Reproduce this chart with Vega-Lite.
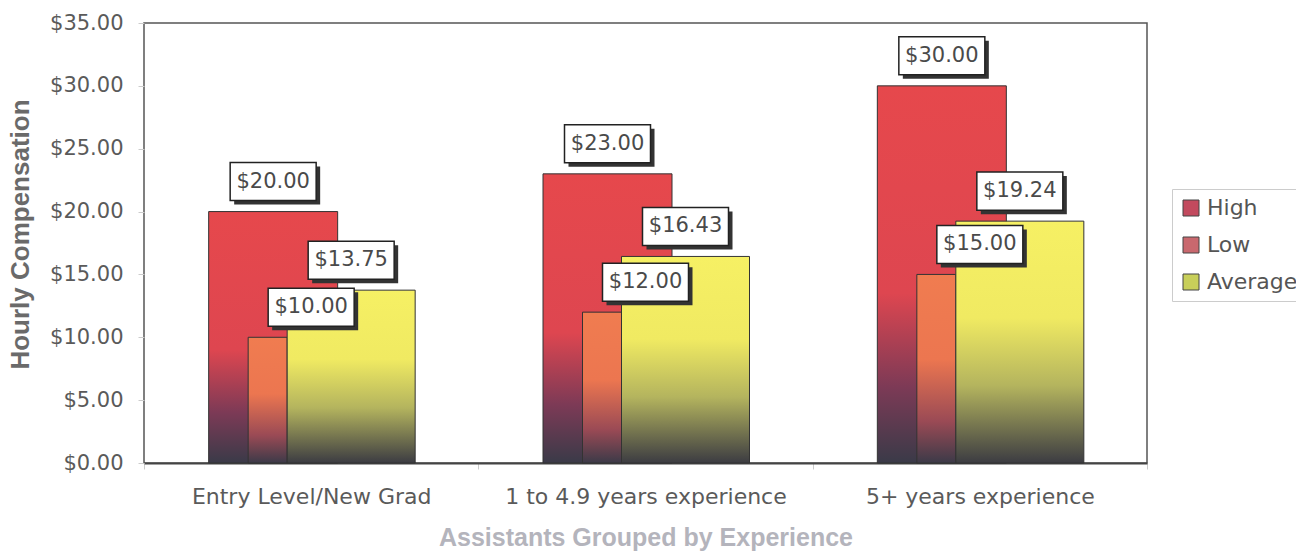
{
  "$schema": "https://vega.github.io/schema/vega-lite/v6.json",
  "width": 1003,
  "height": 440,
  "autosize": {"type": "none"},
  "padding": {"left": 144, "top": 23, "right": 149, "bottom": 93},
  "background": "white",
  "config": {"view": {"stroke": "#555", "strokeWidth": 1.5}, "font": "DejaVu Sans"},
  "data": {"values": [
    {"category": "Entry Level/New Grad", "series": "High", "value": 20.00},
    {"category": "Entry Level/New Grad", "series": "Low", "value": 10.00},
    {"category": "Entry Level/New Grad", "series": "Average", "value": 13.75},
    {"category": "1 to 4.9 years experience", "series": "High", "value": 23.00},
    {"category": "1 to 4.9 years experience", "series": "Low", "value": 12.00},
    {"category": "1 to 4.9 years experience", "series": "Average", "value": 16.43},
    {"category": "5+ years experience", "series": "High", "value": 30.00},
    {"category": "5+ years experience", "series": "Low", "value": 15.00},
    {"category": "5+ years experience", "series": "Average", "value": 19.24}
  ]},
  "encoding": {
    "x": {
      "field": "category", "type": "nominal",
      "sort": ["Entry Level/New Grad", "1 to 4.9 years experience", "5+ years experience"],
      "scale": {"paddingInner": 0, "paddingOuter": 0},
      "axis": {
        "title": "Assistants Grouped by Experience",
        "titleFont": "Liberation Sans", "titleFontSize": 25, "titleFontWeight": "bold",
        "titleColor": "#b4b4bc", "titlePadding": 18,
        "labelFont": "DejaVu Sans", "labelFontSize": 22, "labelColor": "#5a5a5a",
        "labelPadding": 17, "labelAngle": 0, "labelLimit": 0,
        "tickBand": "extent", "tickSize": 6, "tickColor": "#cccccc",
        "domainColor": "#444444", "domainWidth": 2
      }
    },
    "y": {
      "field": "value", "type": "quantitative",
      "scale": {"domain": [0, 35], "nice": false},
      "axis": {
        "title": "Hourly Compensation",
        "titleFont": "Liberation Sans", "titleFontSize": 26, "titleFontWeight": "bold",
        "titleColor": "#6a6a6a", "titlePadding": 16, "titleY": 211,
        "values": [0, 5, 10, 15, 20, 25, 30, 35],
        "format": "$.2f",
        "labelFont": "DejaVu Sans", "labelFontSize": 21, "labelColor": "#5a5a5a", "labelPadding": 15,
        "tickSize": 6, "tickColor": "#cccccc", "grid": false, "domain": false
      }
    }
  },
  "layer": [
    {
      "mark": {"type": "point", "filled": true, "opacity": 0},
      "encoding": {
        "color": {
          "field": "series", "type": "nominal",
          "scale": {"domain": ["High", "Low", "Average"], "range": ["#c24a5e", "#c9686e", "#c8cf5a"]},
          "legend": {
            "title": null, "orient": "none", "legendX": 1028, "legendY": 166,
            "symbolType": "square", "symbolSize": 256, "symbolStrokeColor": "#444", "symbolStrokeWidth": 1,
            "labelFont": "DejaVu Sans", "labelFontSize": 22, "labelColor": "#555555",
            "rowPadding": 15, "padding": 8, "strokeColor": "#cccccc", "labelOffset": 5
          }
        }
      }
    },
    {
      "transform": [{"filter": "datum.series === 'High'"}],
      "mark": {"type": "bar", "width": 129, "xOffset": -38, "stroke": "#333", "strokeWidth": 1,
        "fill": {"gradient": "linear", "x1": 0, "y1": 0, "x2": 0, "y2": 1, "stops": [
          {"offset": 0, "color": "#e6484c"}, {"offset": 0.55, "color": "#de4650"},
          {"offset": 0.8, "color": "#7c3a56"}, {"offset": 1, "color": "#3a3a48"}]}}
    },
    {
      "transform": [{"filter": "datum.series === 'Low'"}],
      "mark": {"type": "bar", "width": 39, "xOffset": -43.5, "stroke": "#333", "strokeWidth": 1,
        "fill": {"gradient": "linear", "x1": 0, "y1": 0, "x2": 0, "y2": 1, "stops": [
          {"offset": 0, "color": "#f07c50"}, {"offset": 0.45, "color": "#ec7650"},
          {"offset": 0.78, "color": "#9a4a55"}, {"offset": 1, "color": "#3c3a48"}]}}
    },
    {
      "transform": [{"filter": "datum.series === 'Average'"}],
      "mark": {"type": "bar", "width": 128, "xOffset": 40, "stroke": "#333", "strokeWidth": 1,
        "fill": {"gradient": "linear", "x1": 0, "y1": 0, "x2": 0, "y2": 1, "stops": [
          {"offset": 0, "color": "#f6f064"}, {"offset": 0.4, "color": "#f0ea62"},
          {"offset": 0.68, "color": "#b4b45e"}, {"offset": 1, "color": "#3c3c42"}]}}
    },
    {
      "transform": [{"filter": "datum.series === 'High'"}],
      "mark": {"type": "point", "shape": "M-1,-0.442H1V0.442H-1Z", "size": 7396, "filled": true, "opacity": 1,
        "fill": "#333333", "strokeWidth": 0, "xOffset": -34, "yOffset": -26}
    },
    {
      "transform": [{"filter": "datum.series === 'High'"}],
      "mark": {"type": "point", "shape": "M-1,-0.442H1V0.442H-1Z", "size": 7396, "filled": true, "opacity": 1,
        "fill": "#ffffff", "stroke": "#222222", "strokeWidth": 1.5, "xOffset": -38, "yOffset": -30}
    },
    {
      "transform": [{"filter": "datum.series === 'High'"}],
      "mark": {"type": "text", "fontSize": 21, "font": "DejaVu Sans", "color": "#4a4a4a", "align": "center", "baseline": "middle",
        "xOffset": -38, "yOffset": -30},
      "encoding": {"text": {"field": "value", "type": "quantitative", "format": "$.2f"}}
    },
    {
      "transform": [{"filter": "datum.series === 'Low'"}],
      "mark": {"type": "point", "shape": "M-1,-0.442H1V0.442H-1Z", "size": 7396, "filled": true, "opacity": 1,
        "fill": "#333333", "strokeWidth": 0, "xOffset": 4, "yOffset": -26}
    },
    {
      "transform": [{"filter": "datum.series === 'Low'"}],
      "mark": {"type": "point", "shape": "M-1,-0.442H1V0.442H-1Z", "size": 7396, "filled": true, "opacity": 1,
        "fill": "#ffffff", "stroke": "#222222", "strokeWidth": 1.5, "xOffset": 0, "yOffset": -30}
    },
    {
      "transform": [{"filter": "datum.series === 'Low'"}],
      "mark": {"type": "text", "fontSize": 21, "font": "DejaVu Sans", "color": "#4a4a4a", "align": "center", "baseline": "middle",
        "xOffset": 0, "yOffset": -30},
      "encoding": {"text": {"field": "value", "type": "quantitative", "format": "$.2f"}}
    },
    {
      "transform": [{"filter": "datum.series === 'Average'"}],
      "mark": {"type": "point", "shape": "M-1,-0.442H1V0.442H-1Z", "size": 7396, "filled": true, "opacity": 1,
        "fill": "#333333", "strokeWidth": 0, "xOffset": 44, "yOffset": -26}
    },
    {
      "transform": [{"filter": "datum.series === 'Average'"}],
      "mark": {"type": "point", "shape": "M-1,-0.442H1V0.442H-1Z", "size": 7396, "filled": true, "opacity": 1,
        "fill": "#ffffff", "stroke": "#222222", "strokeWidth": 1.5, "xOffset": 40, "yOffset": -30}
    },
    {
      "transform": [{"filter": "datum.series === 'Average'"}],
      "mark": {"type": "text", "fontSize": 21, "font": "DejaVu Sans", "color": "#4a4a4a", "align": "center", "baseline": "middle",
        "xOffset": 40, "yOffset": -30},
      "encoding": {"text": {"field": "value", "type": "quantitative", "format": "$.2f"}}
    }
  ]
}
